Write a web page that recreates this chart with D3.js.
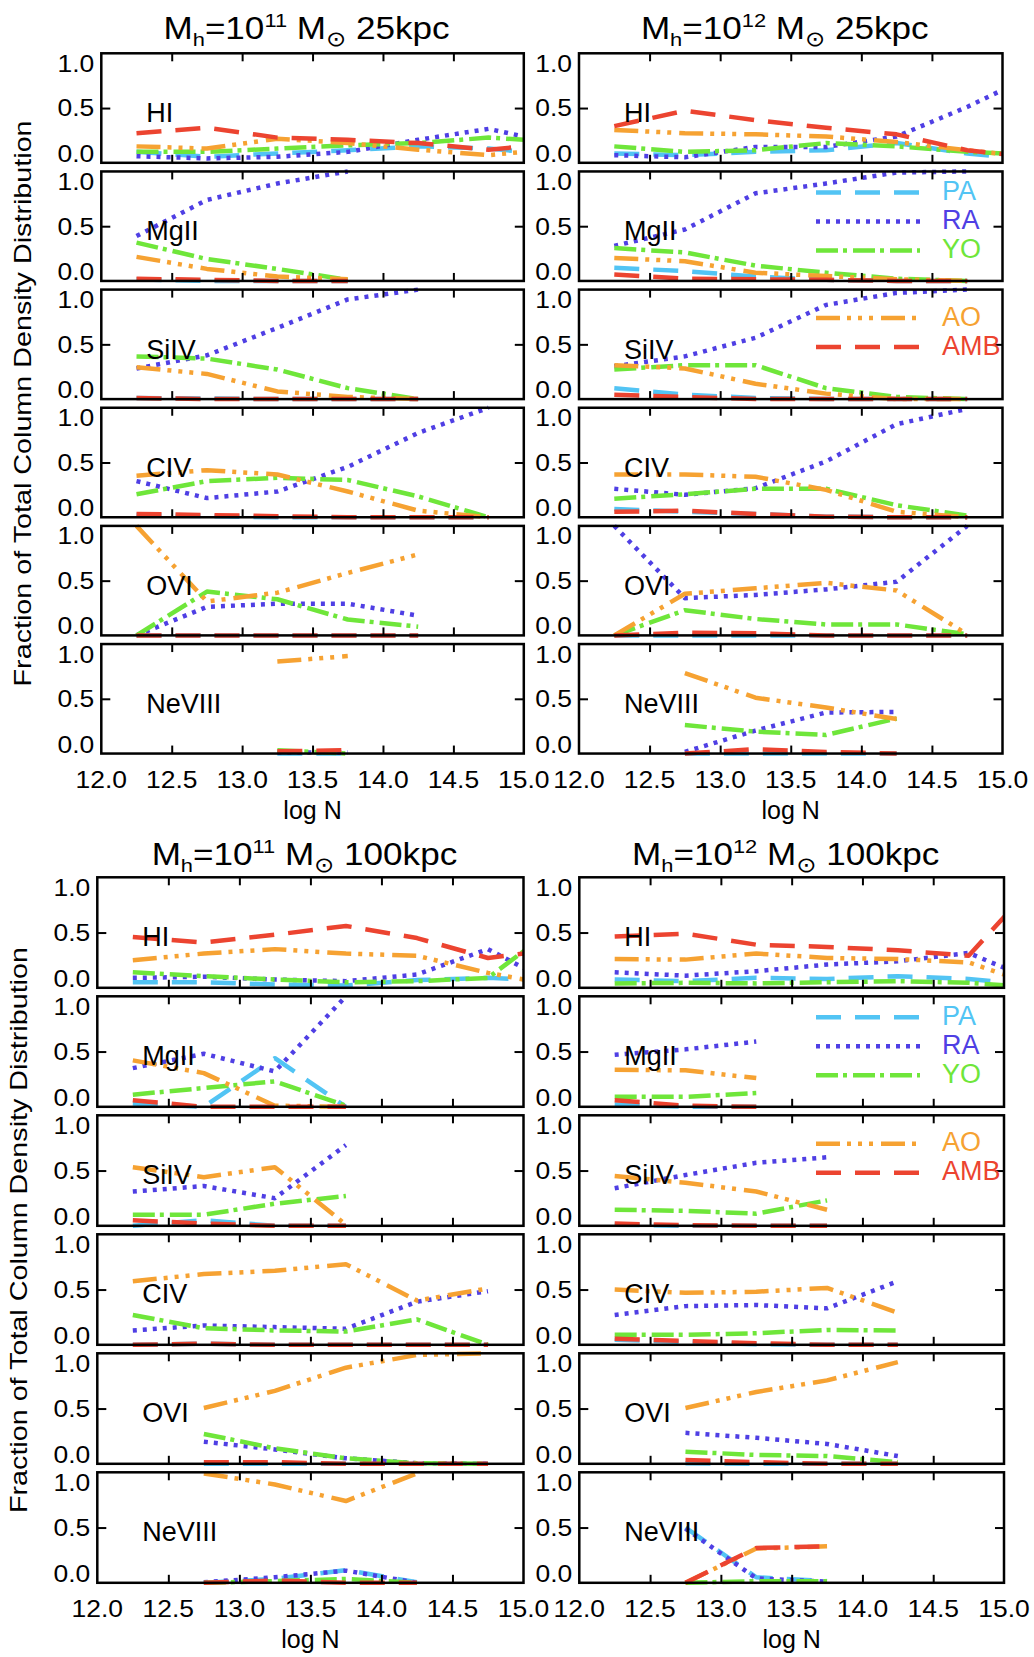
<!DOCTYPE html>
<html><head><meta charset="utf-8">
<script src="https://cdn.jsdelivr.net/npm/d3@7"></script>
<style>
body{margin:0;background:#fff}
text{font-family:"Liberation Sans",Arial,Helvetica,sans-serif;fill:#000}
</style>
</head><body>
<svg id="c" width="1034" height="1657" xmlns="http://www.w3.org/2000/svg"></svg>
<script>
// ---------------- data ----------------
const logN = [12.25, 12.75, 13.25, 13.75, 14.25, 14.75, 15.25];
const ions = ["HI", "MgII", "SiIV", "CIV", "OVI", "NeVIII"];
const components = ["PA", "RA", "YO", "AO", "AMB"];
const componentColors = ["#52c4f4", "#4f3fe4", "#6fe63a", "#f6a232", "#ec4430"];
const xTickValues = [12.0, 12.5, 13.0, 13.5, 14.0, 14.5, 15.0];
const yTickValues = [0.0, 0.5, 1.0];
const haloMassExp = ["11", "12", "11", "12"];
const impactRadius = ["25kpc", "25kpc", "100kpc", "100kpc"];
const yAxisTitle = "Fraction of Total Column Density Distribution";
const xAxisTitle = "log N";

// rows: PA, RA, YO, AO, AMB  (values at logN; missing = null)
// Mh=1e11, 25 kpc
const m11_25_HI = [
  [0.10, 0.055, 0.085, 0.115, 0.15, 0.13, 0.07],
  [0.06, 0.04, 0.055, 0.10, 0.21, 0.31, 0.17],
  [0.10, 0.10, 0.13, 0.16, 0.18, 0.23, 0.19],
  [0.15, 0.13, 0.22, 0.18, 0.12, 0.07, 0.13],
  [0.27, 0.32, 0.23, 0.21, 0.18, 0.12, 0.18]];
const m11_25_MgII = [
  [0.015, 0.0, 0.0, 0.0],
  [0.41, 0.74, 0.89, 1.0],
  [0.35, 0.20, 0.11, 0.01],
  [0.22, 0.11, 0.04, 0.015],
  [0.02, 0.01, 0.0, 0.0]];
const m11_25_SiIV = [
  [0.01, 0.005, 0.0, 0.0, 0.0],
  [0.28, 0.40, 0.65, 0.91, 1.0],
  [0.39, 0.37, 0.27, 0.10, 0.0],
  [0.29, 0.23, 0.07, 0.02, 0.0],
  [0.01, 0.0, 0.0, 0.0, 0.0]];
const m11_25_CIV = [
  [0.02, 0.01, 0.0, 0.0, 0.0, 0.0],
  [0.33, 0.175, 0.235, 0.46, 0.77, 1.0],
  [0.21, 0.33, 0.36, 0.34, 0.19, 0.0],
  [0.38, 0.43, 0.39, 0.235, 0.06, 0.0],
  [0.03, 0.02, 0.01, 0.0, 0.0, 0.0]];
const m11_25_OVI = [
  [0.0, 0.0, 0.0, 0.0, 0.0],
  [0.0, 0.26, 0.29, 0.29, 0.18],
  [0.0, 0.40, 0.33, 0.145, 0.08],
  [1.0, 0.31, 0.39, 0.57, 0.74],
  [0.0, 0.0, 0.0, 0.0, 0.0]];
const m11_25_NeVIII = [
  [null, null, 0.0, 0.0],
  [null, null, 0.01, 0.01],
  [null, null, 0.03, 0.0],
  [null, null, 0.84, 0.89],
  [null, null, 0.02, 0.03]];

// Mh=1e12, 25 kpc
const m12_25_HI = [
  [0.085, 0.07, 0.10, 0.115, 0.18, 0.085, 0.025],
  [0.07, 0.05, 0.145, 0.145, 0.24, 0.51, 0.82],
  [0.15, 0.10, 0.115, 0.18, 0.15, 0.10, 0.07],
  [0.30, 0.27, 0.26, 0.24, 0.19, 0.115, 0.045],
  [0.335, 0.475, 0.39, 0.32, 0.26, 0.115, 0.045]];
const m12_25_MgII = [
  [0.12, 0.09, 0.04, 0.01, 0.0, 0.0],
  [0.32, 0.47, 0.80, 0.89, 0.99, 1.0],
  [0.30, 0.26, 0.14, 0.075, 0.02, 0.0],
  [0.21, 0.18, 0.075, 0.045, 0.015, 0.0],
  [0.06, 0.02, 0.015, 0.01, 0.0, 0.0]];
const m12_25_SiIV = [
  [0.10, 0.04, 0.01, 0.0, 0.0, 0.0],
  [0.30, 0.39, 0.56, 0.86, 0.97, 1.0],
  [0.27, 0.31, 0.31, 0.10, 0.02, 0.0],
  [0.31, 0.28, 0.14, 0.05, 0.0, 0.0],
  [0.04, 0.02, 0.0, 0.0, 0.0, 0.0]];
const m12_25_CIV = [
  [0.075, 0.05, 0.03, 0.005, 0.0, 0.0],
  [0.26, 0.205, 0.265, 0.51, 0.85, 0.99],
  [0.17, 0.21, 0.26, 0.26, 0.11, 0.015],
  [0.39, 0.39, 0.37, 0.25, 0.05, 0.0],
  [0.05, 0.06, 0.03, 0.005, 0.0, 0.0]];
const m12_25_OVI = [
  [0.0, 0.0, 0.0, 0.0, 0.0, 0.0],
  [1.0, 0.34, 0.37, 0.42, 0.49, 1.0],
  [0.0, 0.23, 0.15, 0.10, 0.10, 0.01],
  [0.0, 0.38, 0.43, 0.48, 0.41, 0.01],
  [0.0, 0.025, 0.02, 0.0, 0.0, 0.0]];
const m12_25_NeVIII = [
  [null, 0.0, 0.0, 0.0, 0.0],
  [null, 0.015, 0.21, 0.375, 0.38],
  [null, 0.26, 0.20, 0.17, 0.32],
  [null, 0.735, 0.51, 0.42, 0.315],
  [null, 0.0, 0.04, 0.015, 0.0]];

// Mh=1e11, 100 kpc
const m11_100_HI = [
  [0.05, 0.05, 0.03, 0.02, 0.07, 0.09, 0.06],
  [0.09, 0.10, 0.075, 0.06, 0.12, 0.35, 0.01],
  [0.14, 0.105, 0.075, 0.05, 0.06, 0.09, 0.57],
  [0.25, 0.31, 0.35, 0.31, 0.29, 0.135, 0.015],
  [0.46, 0.41, 0.48, 0.56, 0.45, 0.27, 0.35]];
const m11_100_MgII = [
  [0.03, 0.0, 0.44, 0.0],
  [0.35, 0.48, 0.32, 1.0],
  [0.11, 0.17, 0.23, 0.01],
  [0.42, 0.305, 0.01, 0.0],
  [0.06, 0.0, 0.0, 0.0]];
const m11_100_SiIV = [
  [0.0, 0.05, 0.0, 0.0],
  [0.31, 0.36, 0.25, 0.73],
  [0.10, 0.10, 0.20, 0.27],
  [0.53, 0.44, 0.53, 0.01],
  [0.05, 0.02, 0.0, 0.0]];
const m11_100_CIV = [
  [0.0, 0.01, 0.0, 0.0, 0.0, 0.0],
  [0.13, 0.175, 0.16, 0.145, 0.39, 0.485],
  [0.27, 0.15, 0.13, 0.12, 0.23, 0.0],
  [0.575, 0.64, 0.67, 0.73, 0.40, 0.51],
  [0.0, 0.01, 0.0, 0.0, 0.0, 0.0]];
const m11_100_OVI = [
  [null, 0.0, 0.0, 0.0, 0.0, 0.0],
  [null, 0.20, 0.13, 0.05, 0.005, 0.0],
  [null, 0.27, 0.14, 0.05, 0.005, 0.0],
  [null, 0.505, 0.66, 0.87, 0.985, 1.0],
  [null, 0.015, 0.015, 0.0, 0.0, 0.0]];
const m11_100_NeVIII = [
  [null, 0.0, 0.035, 0.115, 0.005],
  [null, 0.005, 0.05, 0.11, 0.0],
  [null, 0.0, 0.015, 0.035, 0.0],
  [null, 0.99, 0.89, 0.74, 0.99],
  [null, 0.0, 0.02, 0.0, 0.0]];

// Mh=1e12, 100 kpc
const m12_100_HI = [
  [0.075, 0.06, 0.09, 0.08, 0.105, 0.08, 0.02],
  [0.14, 0.11, 0.15, 0.21, 0.24, 0.315, 0.05],
  [0.04, 0.045, 0.04, 0.05, 0.06, 0.045, 0.0],
  [0.26, 0.255, 0.31, 0.27, 0.26, 0.23, 0.01],
  [0.465, 0.49, 0.39, 0.37, 0.34, 0.29, 0.99]];
const m12_100_MgII = [
  [0.02, 0.0, 0.0],
  [0.47, 0.52, 0.59],
  [0.09, 0.09, 0.125],
  [0.335, 0.33, 0.26],
  [0.06, 0.01, 0.0]];
const m12_100_SiIV = [
  [0.01, 0.0, 0.0, 0.0],
  [0.34, 0.46, 0.57, 0.62],
  [0.145, 0.135, 0.11, 0.23],
  [0.45, 0.39, 0.31, 0.145],
  [0.02, 0.005, 0.0, 0.0]];
const m12_100_CIV = [
  [0.045, 0.025, 0.005, 0.0, 0.0],
  [0.27, 0.35, 0.36, 0.33, 0.575],
  [0.09, 0.09, 0.105, 0.135, 0.13],
  [0.50, 0.47, 0.48, 0.515, 0.29],
  [0.055, 0.035, 0.015, 0.0, 0.0]];
const m12_100_OVI = [
  [null, 0.005, 0.0, 0.0, 0.0],
  [null, 0.28, 0.235, 0.18, 0.07],
  [null, 0.11, 0.08, 0.07, 0.015],
  [null, 0.505, 0.65, 0.755, 0.92],
  [null, 0.035, 0.015, 0.0, 0.0]];
const m12_100_NeVIII = [
  [null, 0.50, 0.05, 0.015],
  [null, 0.49, 0.04, 0.01],
  [null, 0.0, 0.015, 0.015],
  [null, 0.0, 0.31, 0.33],
  [null, 0.0, 0.315, 0.33]];

// ---------------- layout / styles ----------------
const dashPatterns = ["25,14", "4,6", "22,5,4,6", "24,7,4,7,4,7,4,8", "25,14"];
const blocks = [
  {x0: 101.3, x1: 523.8, top: 53.3, step: 118.15, h: 109.5, titleY: 39, yTitleX: 31,
   panels: [m11_25_HI, m11_25_MgII, m11_25_SiIV, m11_25_CIV, m11_25_OVI, m11_25_NeVIII], legend: false},
  {x0: 579.0, x1: 1002.5, top: 53.3, step: 118.15, h: 109.5, titleY: 39, yTitleX: null,
   panels: [m12_25_HI, m12_25_MgII, m12_25_SiIV, m12_25_CIV, m12_25_OVI, m12_25_NeVIII], legend: true},
  {x0: 97.3, x1: 523.5, top: 877.3, step: 119.0, h: 110.5, titleY: 865, yTitleX: 27,
   panels: [m11_100_HI, m11_100_MgII, m11_100_SiIV, m11_100_CIV, m11_100_OVI, m11_100_NeVIII], legend: false},
  {x0: 579.3, x1: 1004.0, top: 877.3, step: 119.0, h: 110.5, titleY: 865, yTitleX: null,
   panels: [m12_100_HI, m12_100_MgII, m12_100_SiIV, m12_100_CIV, m12_100_OVI, m12_100_NeVIII], legend: true}
];

const svg = d3.select("#c");
const defs = svg.append("defs");
const TICKFS = 23, STRETCH = 1.15;

function stretchedText(g, x, y, str, anchor, fs) {
  return g.append("text")
    .attr("transform", `translate(${x},${y}) scale(${STRETCH},1)`)
    .attr("text-anchor", anchor)
    .attr("font-size", fs)
    .text(str);
}

blocks.forEach((b, bi) => {
  const bg = svg.append("g");
  const x = d3.scaleLinear().domain([12, 15]).range([b.x0, b.x1]);

  // title
  const t = bg.append("text")
    .attr("transform", `translate(${(b.x0 + b.x1) / 2 - 6},${b.titleY}) scale(${STRETCH},1)`)
    .attr("text-anchor", "middle").attr("font-size", 30.5);
  t.append("tspan").text("M");
  t.append("tspan").attr("font-size", 19).attr("dy", 7).text("h");
  t.append("tspan").attr("dy", -7).text("=10");
  t.append("tspan").attr("font-size", 19).attr("dy", -12).text(haloMassExp[bi]);
  t.append("tspan").attr("dy", 12).text(" M");
  t.append("tspan").attr("font-size", 21).attr("dy", 7)
    .style("font-family", "'DejaVu Sans',sans-serif").text("\u2299");
  t.append("tspan").attr("dy", -7).text(" " + impactRadius[bi]);

  b.panels.forEach((series, pi) => {
    const top = b.top + pi * b.step;
    const bottom = top + b.h;
    const y = d3.scaleLinear().domain([0, 1]).range([bottom, top]);
    const g = bg.append("g");
    const cid = `clip${bi}_${pi}`;
    defs.append("clipPath").attr("id", cid).append("rect")
      .attr("x", b.x0).attr("y", top - 3).attr("width", b.x1 - b.x0).attr("height", b.h + 6);

    const line = d3.line()
      .defined(d => d[1] !== null && d[1] !== undefined)
      .x(d => x(d[0])).y(d => y(d[1]));

    const lg = g.append("g").attr("clip-path", `url(#${cid})`);
    series.forEach((vals, ci) => {
      const pts = logN.map((n, i) => [n, vals[i] === undefined ? null : vals[i]]);
      lg.append("path").attr("d", line(pts))
        .attr("fill", "none")
        .attr("stroke", componentColors[ci])
        .attr("stroke-width", 4.5)
        .attr("stroke-dasharray", dashPatterns[ci])
        .attr("stroke-linejoin", "round");
    });

    // ticks via d3 axes
    const ax = g.append("g");
    ax.append("g").attr("transform", `translate(0,${bottom})`)
      .call(d3.axisBottom(x).tickValues([12.5, 13, 13.5, 14, 14.5]).tickSize(-8).tickFormat(""));
    ax.append("g").attr("transform", `translate(0,${top})`)
      .call(d3.axisTop(x).tickValues([12.5, 13, 13.5, 14, 14.5]).tickSize(-8).tickFormat(""));
    ax.append("g").attr("transform", `translate(${b.x0},0)`)
      .call(d3.axisLeft(y).tickValues([0.5]).tickSize(-9).tickFormat(""));
    ax.append("g").attr("transform", `translate(${b.x1},0)`)
      .call(d3.axisRight(y).tickValues([0.5]).tickSize(-9).tickFormat(""));
    ax.selectAll(".domain").remove();
    ax.selectAll(".tick line").attr("stroke", "#000").attr("stroke-width", 2);

    // frame
    g.append("rect").attr("x", b.x0).attr("y", top).attr("width", b.x1 - b.x0).attr("height", b.h)
      .attr("fill", "none").attr("stroke", "#000").attr("stroke-width", 2.5);

    // y tick labels
    yTickValues.forEach(v => {
      let yy;
      if (v === 1) yy = top + 18.5;
      else if (v === 0) yy = bottom - 1;
      else yy = y(v) + 8.4;
      stretchedText(g, b.x0 - 7, yy, d3.format(".1f")(v), "end", TICKFS);
    });

    // ion label
    g.append("text").attr("x", b.x0 + 45).attr("y", top + 69)
      .attr("font-size", 27).text(ions[pi]);

    // legend
    if (b.legend && (pi === 1 || pi === 2)) {
      const entries = pi === 1 ? [0, 1, 2] : [3, 4];
      const offs = pi === 1 ? [21, 50, 79] : [28.5, 57.5];
      entries.forEach((ci, k) => {
        const ly = top + offs[k];
        g.append("line").attr("x1", 816).attr("x2", 920).attr("y1", ly).attr("y2", ly)
          .attr("stroke", componentColors[ci]).attr("stroke-width", 4.5)
          .attr("stroke-dasharray", dashPatterns[ci]);
        g.append("text").attr("x", 942).attr("y", ly + 7.5).attr("font-size", 27)
          .style("fill", componentColors[ci]).text(components[ci]);
      });
    }

    // x tick labels on last panel
    if (pi === b.panels.length - 1) {
      xTickValues.forEach(v => {
        stretchedText(g, x(v), bottom + 34, d3.format(".1f")(v), "middle", TICKFS);
      });
      g.append("text").attr("x", (b.x0 + b.x1) / 2).attr("y", bottom + 65)
        .attr("text-anchor", "middle").attr("font-size", 25).text(xAxisTitle);
    }
  });

  if (b.yTitleX !== null) {
    const cy = (b.top + b.top + 5 * b.step + b.h) / 2;
    bg.append("text").attr("transform", `translate(${b.yTitleX},${cy}) rotate(-90)`)
      .attr("text-anchor", "middle").attr("font-size", 24)
      .attr("textLength", 566).attr("lengthAdjust", "spacingAndGlyphs")
      .text(yAxisTitle);
  }
});
</script>
</body></html>
